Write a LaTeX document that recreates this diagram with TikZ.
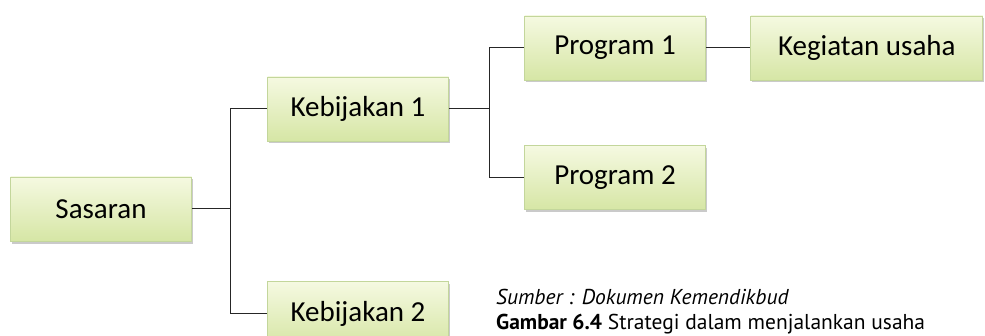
\documentclass[tikz,border=0pt]{standalone}
\usepackage{fontspec}
\setmainfont{Carlito}
\newfontfamily\capfont{PT Sans}
\definecolor{BoxEdge}{RGB}{195, 214, 155}
\definecolor{BoxTop}{RGB}{245, 249, 225}
\definecolor{BoxBottom}{RGB}{214, 230, 165}
\usepackage{tikz}
\usetikzlibrary{positioning, shadows}

\begin{document}
\begin{tikzpicture}[x=1pt, y=1pt, node distance=2cm,
    box/.style={draw=BoxEdge, line width=0.8pt, rectangle, top color=BoxTop, bottom color=BoxBottom,
        minimum width=181pt, minimum height=64pt, inner sep=0pt, font=\fontsize{29}{31}\selectfont,
        drop shadow={shadow xshift=1.5pt, shadow yshift=-2.5pt, opacity=0.35, fill=black!60}},
    link/.style={draw=black!85, line width=1pt}]
            \useasboundingbox (0,0) rectangle (985,335);
            \node[box] (S) at (101,126) {Sasaran};
            \node[box] (K1) at (358,226) {Kebijakan 1};
            \node[box, below=140pt of K1] (K2) {Kebijakan 2};
            \node[box] (P1) at (615,287) {Program 1};
            \node[box, below=65pt of P1] (P2) {Program 2};
            \node[box, minimum width=232pt, right=44.5pt of P1] (KU) {Kegiatan usaha};

            \coordinate (forkS) at (230,126);
            \coordinate (forkK) at (489,226);
            \draw[link] (S.east) -- (forkS) |- (K1.west);
            \draw[link] (forkS) |- (K2.west);
            \draw[link] (K1.east) -- (forkK) |- (P1.west);
            \draw[link] (forkK) |- (P2.west);
            \draw[link] (P1.east) -- (KU.west);

            \node[anchor=west, inner sep=0pt, font=\capfont\itshape\fontsize{21.5}{23}\selectfont] (src) at (496,38) {Sumber : Dokumen Kemendikbud};
            \node[anchor=west, inner sep=0pt, font=\capfont\fontsize{21.5}{23}\selectfont] (cap) at (496,11) {\textbf{Gambar 6.4} Strategi dalam menjalankan usaha};
        \end{tikzpicture}
\end{document}
